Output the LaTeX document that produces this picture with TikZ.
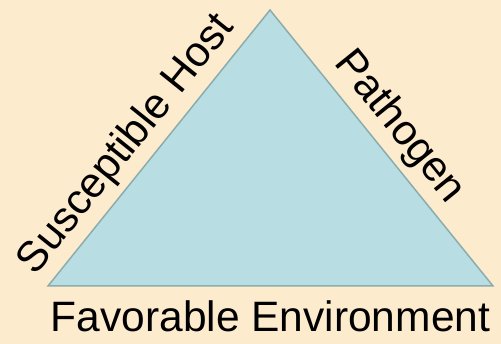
\documentclass[tikz,border=0pt]{standalone}
\usepackage{fontspec}
\setmainfont{Liberation Sans}
\definecolor{cream}{RGB}{253,235,206}
\definecolor{trifill}{RGB}{184,222,227}
\definecolor{triedge}{RGB}{140,172,172}
\tikzset{
  label font/.style = {font=\fontsize{42.5}{50}\selectfont},
  corner label/.style = {sloped, above=16pt, anchor=base, inner sep=0pt, label font},
  triangle/.style = {fill=trifill, draw=triedge, line width=1.5pt, line join=miter}
}
\begin{document}
\begin{tikzpicture}[x=1pt, y=1pt]
\fill[cream] (0,0) rectangle (501,344);
\useasboundingbox (0,0) rectangle (501,344);

\coordinate (lcorner) at (48,58);
\coordinate (apex) at (270,334);
\coordinate (rcorner) at (493,58);

\draw[triangle] (lcorner) -- (apex) -- (rcorner) -- cycle;

\path (lcorner) -- (apex) node[corner label, pos=.45] (host) {Susceptible Host};
\path (apex) -- (rcorner) node[corner label, pos=.485] (pathogen) {Pathogen};

\node[anchor=base, inner sep=0pt, label font] (environment) at (270.5,12) {Favorable Environment};
\end{tikzpicture}
\end{document}
